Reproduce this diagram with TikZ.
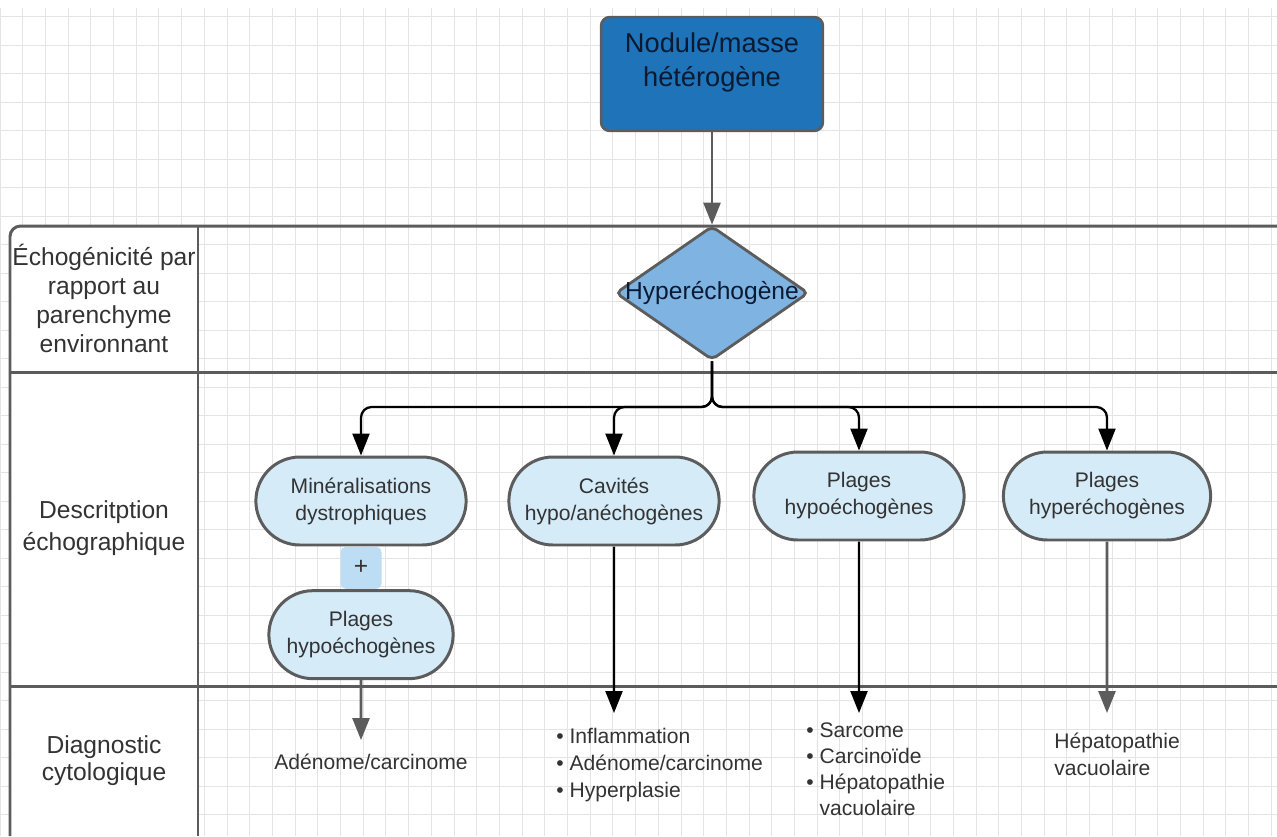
\documentclass[tikz,border=0pt]{standalone}
\usepackage{fontspec}
\setmainfont{Liberation Sans}
\usepackage{tikz}
\usetikzlibrary{shapes.geometric, shapes.misc, arrows.meta, positioning}
\definecolor{nodeblue}{HTML}{1E73B9}
\definecolor{decisionblue}{HTML}{7EB3E2}
\definecolor{palebox}{HTML}{D5EBF8}
\definecolor{plusfill}{HTML}{BCDDF3}
\definecolor{edgegray}{HTML}{5C5C5C}
\definecolor{textgray}{HTML}{333333}
\definecolor{inknavy}{HTML}{0B1A33}
\definecolor{gridgray}{HTML}{E4E4E4}
\tikzstyle{start} = [rectangle, draw=edgegray, line width=1.4pt, fill=nodeblue,
    rounded corners=5pt, minimum width=4.44cm, minimum height=2.28cm, text=inknavy,
    align=center, font=\fontsize{15.5}{19.5}\selectfont]
\tikzstyle{decision} = [diamond, draw=edgegray, line width=1.6pt, fill=decisionblue,
    minimum width=3.86cm, minimum height=2.68cm, inner sep=0pt, rounded corners=3pt]
\tikzstyle{block} = [rounded rectangle, draw=edgegray, line width=1.7pt, fill=palebox,
    minimum width=4.44cm, minimum height=1.76cm, text=textgray, align=center,
    font=\fontsize{12}{15.4}\selectfont]
\tikzstyle{joinbox} = [rectangle, fill=plusfill, rounded corners=3pt, minimum width=0.82cm,
    minimum height=0.84cm, inner sep=0pt, text=textgray, font=\fontsize{14}{16}\selectfont]
\tikzstyle{lane} = [draw=edgegray, line width=1.7pt]
\tikzstyle{lanelabel} = [text=textgray, align=center, font=\fontsize{14}{16.5}\selectfont]
\tikzstyle{result} = [text=textgray, align=left, inner sep=0pt, font=\fontsize{12}{15.4}\selectfont]
\tikzstyle{line} = [draw=black, line width=1.3pt, -{Triangle[length=0.44cm, width=0.34cm]}]
\tikzstyle{grayline} = [line, draw=edgegray, line width=1.5pt]
\tikzstyle{branch} = [line, rounded corners=6pt]
\newcommand{\puce}{\textbullet\ }

\begin{document}
\begin{tikzpicture}[x=0.02cm, y=-0.02cm]
      \useasboundingbox (0,0) rectangle (1277,836);
      % Background grid
      \foreach \gx in {0,22.7,...,1277} \draw[gridgray, line width=0.5pt] (\gx,8) -- (\gx,836);
      \foreach \gy in {16.8,45.3,...,836} \draw[gridgray, line width=0.5pt] (0,\gy) -- (1277,\gy);
      % Swimlanes
      \fill[white, rounded corners=6pt] (10,836) -- (10,226) -- (198,226) [sharp corners] -- (198,836) -- cycle;
      \draw[lane, rounded corners=6pt] (10,836) -- (10,226) -- (1277,226);
      \draw[lane] (10,372) -- (1277,372);
      \draw[lane] (10,686) -- (1277,686);
      \draw[lane] (198,226) -- (198,836);
      \node[lanelabel] (lab-echo) at (104,298) {Échogénicité par\\rapport au\\parenchyme\\environnant};
      \node[lanelabel, font=\fontsize{14}{18}\selectfont] (lab-desc) at (104,528) {Descritption\\échographique};
      \node[lanelabel, font=\fontsize{14}{15.5}\selectfont] (lab-diag) at (104,761) {Diagnostic\\cytologique};
      % Nodes
      \node[start] (nodule) at (712,74) {Nodule/masse\\hétérogène\\[-0.12cm]};
      \node[decision, label={[text=inknavy, font=\fontsize{14}{16}\selectfont]center:Hyperéchogène}] (hyper) at (712,293) {};
      \node[block] (mineral) at (361,501) {Minéralisations\\dystrophiques};
      \node[joinbox, below=0pt of mineral] (join) {+};
      \node[block, minimum width=3.92cm, below=0pt of join] (hypo-min) {Plages\\hypoéchogènes};
      \node[block] (cavity) at (614,501) {Cavités\\hypo/anéchogènes};
      \node[block] (hypo) at (859,496) {Plages\\hypoéchogènes};
      \node[block, minimum width=4.38cm] (hyper-zone) at (1107,496) {Plages\\hyperéchogènes};
      % Diagnoses
      \node[result, anchor=base] (diag-min) at (371,769) {Adénome/carcinome};
      \node[result, anchor=north west] (diag-cav) at (556,728) {\puce Inflammation\\\puce Adénome/carcinome\\\puce Hyperplasie};
      \node[result, anchor=north west, font=\fontsize{12}{14.8}\selectfont] (diag-hypo) at (806,722) {\puce Sarcome\\\puce Carcinoïde\\\puce Hépatopathie\\\phantom{\puce}vacuolaire};
      \node[result, anchor=north west] (diag-hyper) at (1054,733) {Hépatopathie\\vacuolaire};
      \coordinate (split) at (712,407);
      \coordinate (tip-min) at (361,740);
      \coordinate (tip-cav) at (614,713);
      \coordinate (tip-hypo) at (859,713);
      \coordinate (tip-hyper) at (1107,713);
      % Draw edges
      \path [grayline] (nodule) -- (hyper);
      \path [branch] (hyper.south) -- (split) -| (mineral.north);
      \path [branch] (hyper.south) -- (split) -| (cavity.north);
      \path [branch] (hyper.south) -- (split) -| (hypo.north);
      \path [branch] (hyper.south) -- (split) -| (hyper-zone.north);
      \path [grayline] (hypo-min) -- (tip-min);
      \path [line] (cavity) -- (tip-cav);
      \path [line] (hypo) -- (tip-hypo);
      \path [grayline] (hyper-zone) -- (tip-hyper);
\end{tikzpicture}
\end{document}
